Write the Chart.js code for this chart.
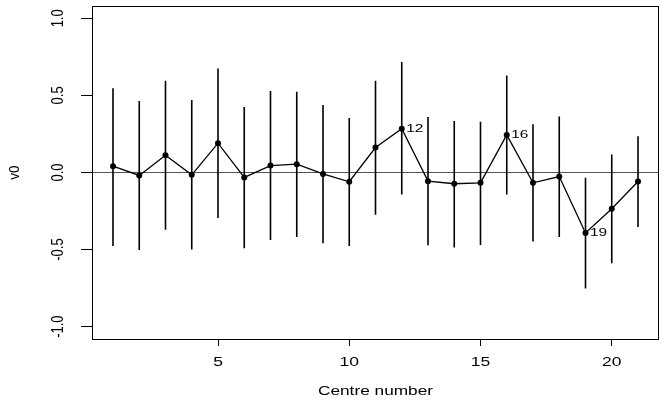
<!DOCTYPE html>
<html>
<head>
<meta charset="utf-8">
<script src="https://cdn.jsdelivr.net/npm/chart.js@4.4.1/dist/chart.umd.min.js"></script>
<style>
html,body{margin:0;padding:0;background:#fff;}
#wrap{width:667px;height:404px;position:relative;}
</style>
</head>
<body>
<div id="wrap"><canvas id="c" width="667" height="404"></canvas></div>
<script>
// Data
const centres = [1,2,3,4,5,6,7,8,9,10,11,12,13,14,15,16,17,18,19,20,21];
const estimates = [0.041,-0.019,0.112,-0.015,0.190,-0.032,0.045,0.054,-0.009,-0.060,0.162,0.284,-0.056,-0.073,-0.067,0.244,-0.067,-0.026,-0.392,-0.235,-0.058];
const upper = [0.547,0.463,0.595,0.470,0.675,0.425,0.528,0.524,0.438,0.353,0.595,0.716,0.360,0.334,0.330,0.629,0.313,0.364,-0.034,0.116,0.235];
const lower = [-0.476,-0.502,-0.371,-0.500,-0.295,-0.491,-0.438,-0.418,-0.459,-0.476,-0.274,-0.142,-0.472,-0.487,-0.470,-0.142,-0.448,-0.418,-0.752,-0.588,-0.353];
const labelledCentres = [12,16,19];
const xTicks = [5,10,15,20];
const yTicks = [-1.0,-0.5,0.0,0.5,1.0];
const xTitle = 'Centre number';
const yTitle = 'v0';

const FONT = '"Liberation Sans", Arial, Helvetica, sans-serif';

const barData = [];
centres.forEach((c,i)=>{
  barData.push({x:c,y:lower[i]});
  barData.push({x:c,y:upper[i]});
  barData.push({x:c,y:null});
});
const estData = centres.map((c,i)=>({x:c,y:estimates[i]}));

function drawText(ctx, s, x, y, size, sx, rotated, align){
  ctx.save();
  ctx.translate(x, y);
  ctx.scale(sx, 1);
  if (rotated) ctx.rotate(-Math.PI/2);
  ctx.font = size + 'px ' + FONT;
  ctx.fillStyle = '#000';
  ctx.textAlign = align || 'center';
  ctx.textBaseline = 'middle';
  ctx.fillText(s, 0, 0);
  ctx.restore();
}

const rPlot = {
  id:'rPlot',
  afterDatasetsDraw(chart){
    const ctx = chart.ctx, a = chart.chartArea;
    const xs = chart.scales.x, ys = chart.scales.y;
    ctx.save();
    ctx.strokeStyle = '#000';
    ctx.lineWidth = 1;
    ctx.strokeRect(Math.round(a.left)+0.5, Math.round(a.top)+0.5, Math.round(a.right-a.left)-1, Math.round(a.bottom-a.top));
    ctx.restore();
    // y tick labels (rotated)
    yTicks.forEach(v=>{
      drawText(ctx, v.toFixed(1), 58, ys.getPixelForValue(v), 13, 1.3, true);
    });
    // y title
    drawText(ctx, yTitle, 15, ys.getPixelForValue(0), 13.5, 1.15, true);
    // x tick labels
    xTicks.forEach(v=>{
      drawText(ctx, String(v), xs.getPixelForValue(v), 363, 12.5, 1.4, false);
    });
    // x title
    drawText(ctx, xTitle, (a.left + a.right)/2, 392, 12.5, 1.38, false);
    // point labels
    labelledCentres.forEach(c=>{
      const i = centres.indexOf(c);
      drawText(ctx, String(c), xs.getPixelForValue(c)+4.5, ys.getPixelForValue(estimates[i]), 11, 1.4, false, 'left');
    });
  }
};

new Chart(document.getElementById('c'), {
  type:'line',
  data:{
    datasets:[
      {
        data:[{x:0.2,y:0},{x:21.8,y:0}],
        borderColor:'#555',
        borderWidth:1,
        pointRadius:0,
        order:3
      },
      {
        data:barData,
        borderColor:'#000',
        borderWidth:1.6,
        pointRadius:0,
        spanGaps:false,
        order:2
      },
      {
        data:estData,
        borderColor:'#000',
        backgroundColor:'#000',
        borderWidth:1.3,
        pointRadius:3,
        pointBorderWidth:0,
        pointBackgroundColor:'#000',
        order:1
      }
    ]
  },
  options:{
    responsive:false,
    animation:false,
    devicePixelRatio:1,
    layout:{padding:{left:0,right:8,top:6,bottom:0}},
    plugins:{legend:{display:false},tooltip:{enabled:false}},
    scales:{
      x:{
        type:'linear',
        min:0.2, max:21.8,
        afterBuildTicks(s){ s.ticks = xTicks.map(v=>({value:v})); },
        afterFit(s){ s.height = 65; },
        grid:{display:true, drawOnChartArea:false, drawTicks:true, tickLength:7, color:'#000', tickWidth:1},
        border:{display:false},
        ticks:{display:false}
      },
      y:{
        type:'linear',
        min:-1.08, max:1.08,
        afterBuildTicks(s){ s.ticks = yTicks.map(v=>({value:v})); },
        afterFit(s){ s.width = 92; },
        grid:{display:true, drawOnChartArea:false, drawTicks:true, tickLength:11, color:'#000', tickWidth:1},
        border:{display:false},
        ticks:{display:false}
      }
    }
  },
  plugins:[rPlot]
});
</script>
</body>
</html>
